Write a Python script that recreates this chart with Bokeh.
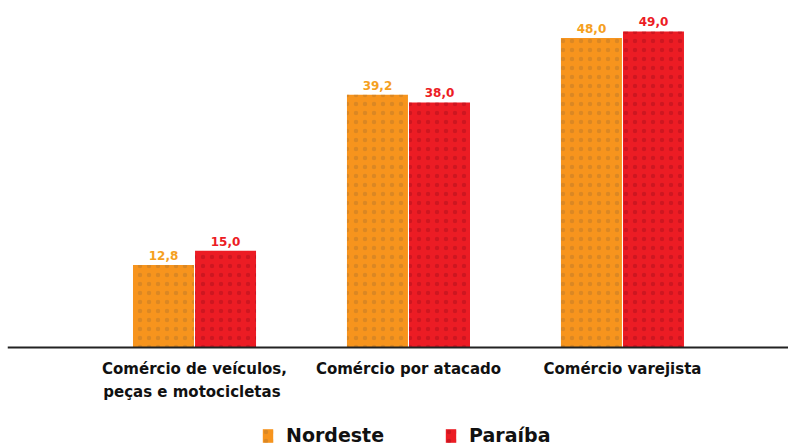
from bokeh.plotting import figure
from bokeh.models import ColumnDataSource, Range1d, Legend, LegendItem, Span
from bokeh.core.properties import value
from bokeh.embed import file_html
from bokeh.resources import INLINE

categories = ["Comércio de veículos,\npeças e  motocicletas", "Comércio por atacado", "Comércio varejista"]
nordeste = [12.8, 39.2, 48.0]
paraiba = [15.0, 38.0, 49.0]
nordeste_labels = ["12,8", "39,2", "48,0"]
paraiba_labels = ["15,0", "38,0", "49,0"]
series_names = ["Nordeste", "Paraíba"]

ORANGE = "#F7941D"
RED = "#EC1C24"
FONT = "DejaVu Sans"

pos = [i + 0.5 for i in range(len(categories))]
off = 0.145
bw = 0.285

p = figure(frame_width=781, frame_height=446, output_backend="svg", toolbar_location=None,
           x_range=Range1d(-0.374, 3.276), y_range=Range1d(-15.35, 53.8),
           min_border_left=7, min_border_right=0, min_border_top=0, min_border_bottom=0)
p.outline_line_color = None
p.background_fill_color = "white"
p.border_fill_color = "white"
p.grid.visible = False
p.xaxis.visible = False
p.yaxis.visible = False

src_n = ColumnDataSource(dict(x=[v - off for v in pos], top=nordeste, lab=nordeste_labels))
src_p = ColumnDataSource(dict(x=[v + off for v in pos], top=paraiba, lab=paraiba_labels))
src_c = ColumnDataSource(dict(x=pos, y=[0] * len(pos), lab=categories))

rn = p.vbar(x="x", top="top", width=bw, source=src_n, fill_color=ORANGE, line_color=None,
            hatch_pattern="dot", hatch_color="#B8782A", hatch_alpha=0.45, hatch_scale=9, hatch_weight=2)
rp = p.vbar(x="x", top="top", width=bw, source=src_p, fill_color=RED, line_color=None,
            hatch_pattern="dot", hatch_color="#A8101A", hatch_alpha=0.45, hatch_scale=9, hatch_weight=2)

p.add_layout(Span(location=0, dimension="width", line_color="#222222", line_width=2))

p.text(x="x", y="top", text="lab", source=src_n, text_color="#F5A01E", text_font=value(FONT),
       text_font_style="bold", text_font_size="12px", text_align="center", text_baseline="bottom", y_offset=-5)
p.text(x="x", y="top", text="lab", source=src_p, text_color=RED, text_font=value(FONT),
       text_font_style="bold", text_font_size="12px", text_align="center", text_baseline="bottom", y_offset=-5)

p.text(x="x", y="y", text="lab", source=src_c, text_color="#111111", text_font=value(FONT),
       text_font_style="bold", text_font_size="15px", text_align="center", text_baseline="top",
       text_line_height=1.25, y_offset=13)

legend = Legend(items=[LegendItem(label=series_names[0], renderers=[rn]),
                       LegendItem(label=series_names[1], renderers=[rp])],
                orientation="horizontal", location=(254, 0),
                label_text_font=FONT, label_text_font_style="bold",
                label_text_font_size="19px", label_text_color="#111111",
                glyph_width=13, glyph_height=17, spacing=60, label_standoff=12,
                border_line_color=None, background_fill_alpha=0, padding=0, margin=0)
p.add_layout(legend, "center")

open("out.html", "w").write(file_html(p, INLINE))
